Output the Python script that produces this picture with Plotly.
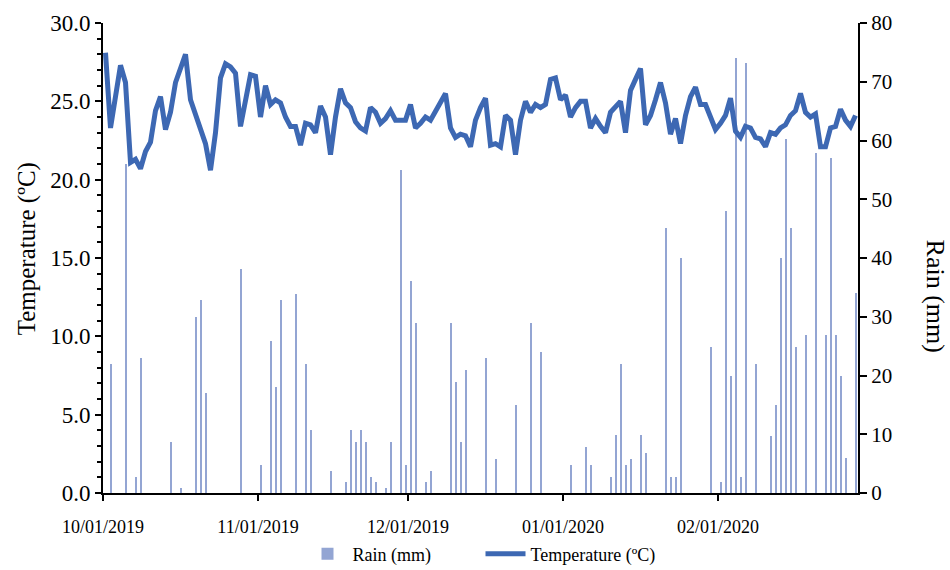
import pandas as pd
import plotly.graph_objects as go

# Daily series, 1 Oct 2019 - 28 Feb 2020
dates = pd.date_range("2019-10-01", periods=151, freq="D")

temperature_c = [
    28.1, 23.3, 25.3, 27.3, 26.2, 21.1, 21.3, 20.7, 21.8, 22.4,
    24.4, 25.3, 23.2, 24.3, 26.2, 27.1, 28.0, 25.1, 24.2, 23.4,
    22.3, 20.6, 23.0, 26.5, 27.4, 27.2, 26.8, 23.4, 25.1, 26.7,
    26.6, 24.0, 26.0, 24.8, 25.1, 24.9, 24.0, 23.4, 23.4, 22.2,
    23.6, 23.5, 23.0, 24.7, 24.0, 21.6, 24.0, 25.8, 24.9, 24.6,
    23.7, 23.3, 23.1, 24.6, 24.3, 23.6, 23.9, 24.4, 23.8, 23.8,
    23.8, 24.8, 23.3, 23.6, 24.0, 23.8, 24.4, 24.9, 25.5, 23.3,
    22.7, 22.9, 22.8, 22.1, 23.8, 24.6, 25.2, 22.2, 22.3, 22.1,
    24.1, 23.8, 21.6, 23.8, 25.0, 24.3, 24.8, 24.6, 24.8, 26.4,
    26.5, 25.1, 25.4, 24.0, 24.6, 25.0, 25.0, 23.3, 23.9, 23.4,
    23.0, 24.3, 24.6, 25.0, 23.0, 25.7, 26.4, 27.1, 23.5, 24.1,
    25.1, 26.2, 24.9, 22.9, 23.9, 22.3, 24.1, 25.3, 25.9, 24.8,
    24.8, 24.0, 23.2, 23.6, 24.1, 25.2, 23.1, 22.7, 23.4, 23.3,
    22.7, 22.6, 22.1, 23.0, 22.9, 23.3, 23.5, 24.1, 24.4, 25.5,
    24.3, 24.0, 24.2, 22.1, 22.1, 23.3, 23.4, 24.5, 23.8, 23.4,
    24.1,
]

rain_mm = [
    0, 22.0, 0, 0, 56.0, 0, 2.8, 23.0, 0, 0,
    0, 0, 0, 8.7, 0, 0.9, 0, 0, 30.0, 32.8,
    17.0, 0, 0, 0, 0, 0, 0, 38.1, 0, 0,
    0, 4.8, 0, 25.9, 18.0, 32.8, 0, 0, 33.9, 0,
    22.0, 10.7, 0, 0, 0, 3.7, 0, 0, 1.9, 10.7,
    8.7, 10.7, 8.7, 2.7, 1.9, 0, 0.9, 8.7, 0, 55.0,
    4.8, 36.1, 28.9, 0, 1.9, 3.7, 0, 0, 0, 28.9,
    18.9, 8.7, 20.9, 0, 0, 0, 23.0, 0, 5.8, 0,
    0, 0, 15.0, 0, 0, 28.9, 0, 24.0, 0, 0,
    0, 0, 0, 4.8, 0, 0, 7.8, 4.8, 0, 0,
    0, 2.7, 9.9, 22.0, 4.8, 5.8, 0, 9.9, 6.8, 0,
    0, 0, 45.1, 2.7, 2.7, 40.0, 0, 0, 0, 0,
    0, 24.9, 0, 1.9, 48.0, 19.9, 74.0, 2.7, 73.2, 0,
    22.0, 0, 0, 9.7, 15.0, 40.0, 60.3, 45.1, 24.9, 0,
    26.9, 0, 57.9, 0, 26.9, 57.0, 26.9, 19.9, 6.0, 0,
    34.0,
]

month_ticks = ["2019-10-01", "2019-11-01", "2019-12-01", "2020-01-01", "2020-02-01"]
month_labels = ["10/01/2019", "11/01/2019", "12/01/2019", "01/01/2020", "02/01/2020"]

DAY_MS = 86400000
SERIF = "Liberation Serif, Times New Roman, serif"
BAR_COLOR = "#93A5D3"
LINE_COLOR = "#3D68B3"

fig = go.Figure()

fig.add_trace(go.Bar(
    x=dates, y=rain_mm, name="Rain (mm)",
    xperiod=DAY_MS, xperiodalignment="middle",
    width=0.4 * DAY_MS,
    marker=dict(color=BAR_COLOR, line=dict(width=0)),
    yaxis="y",
))

fig.add_trace(go.Scatter(
    x=dates, y=temperature_c, name="Temperature (ºC)",
    xperiod=DAY_MS, xperiodalignment="middle",
    mode="lines",
    line=dict(color=LINE_COLOR, width=5),
    yaxis="y2",
))

fig.update_layout(
    width=950, height=570,
    margin=dict(l=103, r=92, t=23, b=77, autoexpand=False),
    plot_bgcolor="white", paper_bgcolor="white",
    font=dict(family=SERIF, color="black"),
    bargap=0,
    showlegend=True,
    legend=dict(
        orientation="h", x=0.5, xanchor="center",
        yref="container", y=0.028, yanchor="middle",
        font=dict(size=18, family=SERIF),
        entrywidth=123, itemwidth=40,
        traceorder="normal",
    ),
    xaxis=dict(
        type="date",
        range=["2019-10-01", "2020-02-29"],
        tickvals=month_ticks, ticktext=month_labels,
        ticks="outside", ticklen=6, tickwidth=2, tickcolor="black",
        showline=True, linecolor="black", linewidth=2,
        showgrid=False, zeroline=False,
        tickfont=dict(size=18, family=SERIF),
        ticklabelstandoff=10,
        automargin=False,
    ),
    yaxis=dict(
        side="right", range=[0, 80], dtick=10,
        ticks="outside", ticklen=7, tickwidth=2, tickcolor="black",
        showline=True, linecolor="black", linewidth=2,
        showgrid=False, zeroline=False,
        tickfont=dict(size=21, family=SERIF),
        automargin=False,
    ),
    yaxis2=dict(
        overlaying="y", side="left", anchor="x",
        range=[0, 30], dtick=5, tickformat=".1f",
        ticks="outside", ticklen=6, tickwidth=2, tickcolor="black",
        minor=dict(dtick=1, ticks="outside", ticklen=4, tickwidth=1.5, tickcolor="black"),
        showline=True, linecolor="black", linewidth=2,
        showgrid=False, zeroline=False,
        tickfont=dict(size=23, family=SERIF),
        automargin=False,
    ),
    annotations=[
        dict(text="Temperature (ºC)", xref="paper", yref="paper",
             x=-0.101, y=0.52, textangle=-90, showarrow=False,
             font=dict(size=25, family=SERIF), xanchor="center", yanchor="middle"),
        dict(text="Rain (mm)", xref="paper", yref="paper",
             x=1.102, y=0.42, textangle=90, showarrow=False,
             font=dict(size=26, family=SERIF), xanchor="center", yanchor="middle"),
    ],
)

fig.write_html("out.html")
